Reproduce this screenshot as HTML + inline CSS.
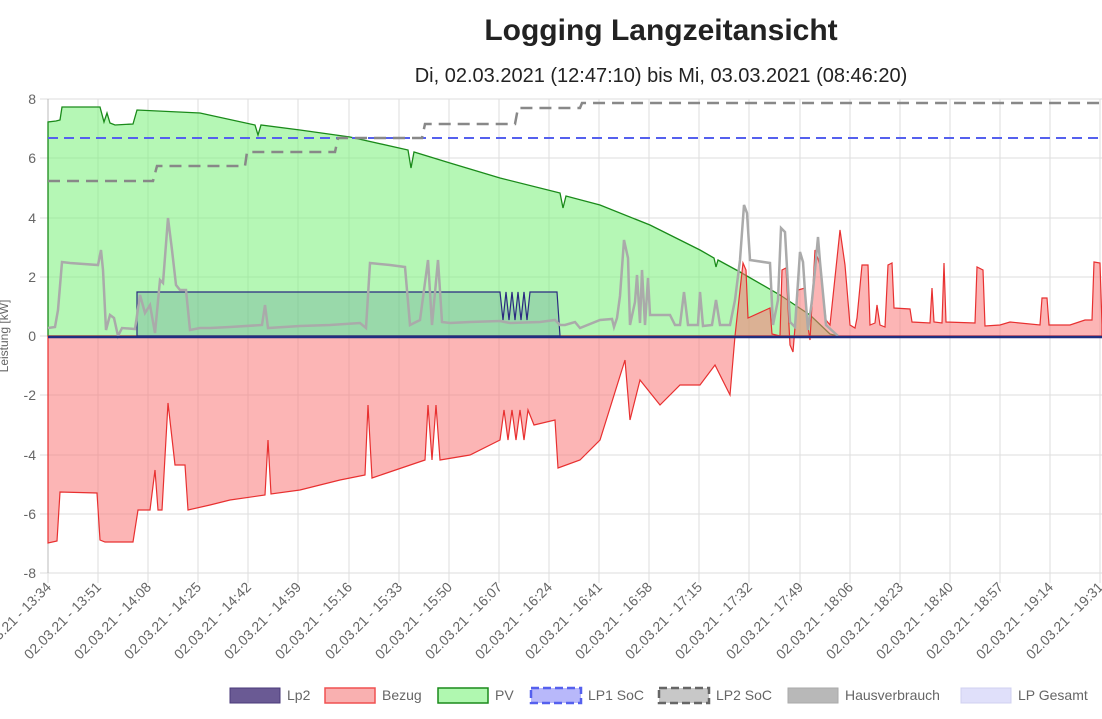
<!DOCTYPE html>
<html><head><meta charset="utf-8"><style>
body{margin:0;background:#fff;width:1102px;height:714px;overflow:hidden;font-family:"Liberation Sans",sans-serif}
</style></head><body>
<svg width="1102" height="714" xmlns="http://www.w3.org/2000/svg" font-family="Liberation Sans, sans-serif">
<text x="661" y="40" text-anchor="middle" font-size="30" font-weight="bold" fill="#222">Logging Langzeitansicht</text>
<text x="661" y="82" text-anchor="middle" font-size="20" fill="#222">Di, 02.03.2021 (12:47:10) bis Mi, 03.03.2021 (08:46:20)</text>
<g stroke="#ddd" stroke-width="1">
<line x1="40" y1="99" x2="1102" y2="99"/><line x1="40" y1="158" x2="1102" y2="158"/><line x1="40" y1="218" x2="1102" y2="218"/><line x1="40" y1="277" x2="1102" y2="277"/><line x1="40" y1="336" x2="1102" y2="336"/><line x1="40" y1="395" x2="1102" y2="395"/><line x1="40" y1="455" x2="1102" y2="455"/><line x1="40" y1="514" x2="1102" y2="514"/><line x1="40" y1="573" x2="1102" y2="573"/>
</g>
<g stroke="#ddd">
<line x1="48" y1="99" x2="48" y2="583"/><line x1="98" y1="99" x2="98" y2="583"/><line x1="148" y1="99" x2="148" y2="583"/><line x1="198" y1="99" x2="198" y2="583"/><line x1="248" y1="99" x2="248" y2="583"/><line x1="298" y1="99" x2="298" y2="583"/><line x1="349" y1="99" x2="349" y2="583"/><line x1="399" y1="99" x2="399" y2="583"/><line x1="449" y1="99" x2="449" y2="583"/><line x1="499" y1="99" x2="499" y2="583"/><line x1="549" y1="99" x2="549" y2="583"/><line x1="599" y1="99" x2="599" y2="583"/><line x1="649" y1="99" x2="649" y2="583"/><line x1="699" y1="99" x2="699" y2="583"/><line x1="749" y1="99" x2="749" y2="583"/><line x1="800" y1="99" x2="800" y2="583"/><line x1="850" y1="99" x2="850" y2="583"/><line x1="900" y1="99" x2="900" y2="583"/><line x1="950" y1="99" x2="950" y2="583"/><line x1="1000" y1="99" x2="1000" y2="583"/><line x1="1050" y1="99" x2="1050" y2="583"/><line x1="1100" y1="99" x2="1100" y2="583"/>
</g>
<line x1="48" y1="99" x2="48" y2="573" stroke="#bbb"/>
<g font-size="14" fill="#666" text-anchor="end">
<text x="36" y="104">8</text><text x="36" y="163">6</text><text x="36" y="223">4</text><text x="36" y="282">2</text><text x="36" y="341">0</text><text x="36" y="400">-2</text><text x="36" y="460">-4</text><text x="36" y="519">-6</text><text x="36" y="578">-8</text>
</g>
<text transform="translate(8,336) rotate(-90)" font-size="12" fill="#666" text-anchor="middle">Leistung [kW]</text>
<path d="M48,336 L48,122 L56,121 L60,120 L62,107 L100,107 L104,122 L107,113 L110,123 L115,125 L133,124 L137,110 L200,113 L255,125 L258,135 L261,125 L300,130 L350,137 L408,150 L411,168 L414,152 L450,163 L500,178 L560,193 L563,208 L566,196 L600,205 L650,225 L700,250 L714,258 L716,267 L718,260 L740,272 L780,295 L810,315 L830,334 L838,336 Z" fill="rgba(120,240,120,0.55)" stroke="#1a8a1a" stroke-width="1.3"/>
<path d="M48,336 L48,543 L57,541 L60,492 L97,493 L100,540 L105,542 L133,542 L138,510 L150,510 L155,470 L158,510 L162,510 L168,403 L175,465 L185,465 L188,510 L210,505 L230,500 L265,495 L268,440 L271,494 L300,490 L340,480 L365,475 L368,405 L372,478 L425,460 L428,405 L432,460 L436,405 L440,460 L470,455 L500,440 L504,410 L508,440 L512,410 L516,440 L520,410 L524,440 L528,410 L534,425 L555,420 L558,468 L580,460 L600,440 L625,360 L630,420 L640,380 L660,405 L680,385 L700,385 L715,365 L730,395 L735,336 L740,290 L743,263 L746,270 L748,318 L770,308 L772,334 L780,336 L782,270 L786,268 L790,345 L793,352 L798,290 L805,288 L807,320 L810,340 L815,250 L820,265 L826,320 L830,325 L840,230 L845,265 L850,325 L855,328 L857,318 L862,265 L868,265 L870,325 L875,323 L877,305 L880,325 L885,327 L888,265 L892,263 L894,308 L910,309 L912,322 L930,323 L932,288 L934,322 L942,323 L944,263 L946,322 L975,323 L977,267 L983,270 L985,326 L1000,325 L1010,322 L1040,325 L1042,298 L1047,298 L1049,325 L1070,325 L1085,320 L1092,320 L1094,262 L1100,263 L1102,325 L1102,336 Z" fill="rgba(250,120,120,0.55)" stroke="#e83030" stroke-width="1.2"/>
<path d="M137,336 L137,292 L500,292 L503,320 L506,292 L509,320 L512,292 L515,320 L518,292 L521,320 L524,292 L527,320 L530,292 L557,292 L560,336 Z" fill="rgba(100,160,150,0.35)" stroke="#2a2a80" stroke-width="1.2"/>
<polyline fill="none" stroke="#aaa" stroke-width="2.5" points="48,328 55,327 58,310 62,262 70,263 98,265 101,250 103,270 106,330 110,315 114,318 118,336 122,328 135,329 140,295 145,313 150,305 155,333 160,280 163,283 168,218 172,250 176,285 180,290 186,290 190,330 200,328 210,328 230,327 262,325 265,305 268,328 300,326 330,325 360,323 366,328 370,263 390,265 405,267 410,325 420,320 428,260 432,325 438,260 442,322 450,323 470,322 500,321 510,323 540,322 555,320 560,325 565,325 575,322 580,328 600,320 612,319 614,327 617,318 620,296 624,240 628,258 630,325 635,302 637,275 640,323 642,270 645,325 648,278 650,315 670,315 675,325 680,325 684,292 688,325 698,325 700,292 703,326 712,325 716,300 720,325 730,325 735,300 740,260 744,205 747,213 750,260 770,263 773,325 778,300 781,228 785,232 790,322 795,327 800,252 803,262 805,292 808,330 812,300 815,270 818,237 820,262 826,325 838,336"/>
<line x1="48" y1="337" x2="1102" y2="337" stroke="#1f2f80" stroke-width="2.5"/>
<line x1="48" y1="138" x2="1102" y2="138" stroke="#5560ee" stroke-width="2" stroke-dasharray="10,6"/>
<polyline fill="none" stroke="#888" stroke-width="2.5" stroke-dasharray="12,7" points="48,181 153,181 157,166 245,166 247,152 335,152 338,138 422,138 425,124 515,124 518,108 580,108 582,103 1102,103"/>
<g font-size="14" fill="#666" text-anchor="end">
<text transform="translate(52,588) rotate(-45)">02.03.21 - 13:34</text>
<text transform="translate(102,588) rotate(-45)">02.03.21 - 13:51</text>
<text transform="translate(152,588) rotate(-45)">02.03.21 - 14:08</text>
<text transform="translate(202,588) rotate(-45)">02.03.21 - 14:25</text>
<text transform="translate(252,588) rotate(-45)">02.03.21 - 14:42</text>
<text transform="translate(302,588) rotate(-45)">02.03.21 - 14:59</text>
<text transform="translate(353,588) rotate(-45)">02.03.21 - 15:16</text>
<text transform="translate(403,588) rotate(-45)">02.03.21 - 15:33</text>
<text transform="translate(453,588) rotate(-45)">02.03.21 - 15:50</text>
<text transform="translate(503,588) rotate(-45)">02.03.21 - 16:07</text>
<text transform="translate(553,588) rotate(-45)">02.03.21 - 16:24</text>
<text transform="translate(603,588) rotate(-45)">02.03.21 - 16:41</text>
<text transform="translate(653,588) rotate(-45)">02.03.21 - 16:58</text>
<text transform="translate(703,588) rotate(-45)">02.03.21 - 17:15</text>
<text transform="translate(753,588) rotate(-45)">02.03.21 - 17:32</text>
<text transform="translate(804,588) rotate(-45)">02.03.21 - 17:49</text>
<text transform="translate(854,588) rotate(-45)">02.03.21 - 18:06</text>
<text transform="translate(904,588) rotate(-45)">02.03.21 - 18:23</text>
<text transform="translate(954,588) rotate(-45)">02.03.21 - 18:40</text>
<text transform="translate(1004,588) rotate(-45)">02.03.21 - 18:57</text>
<text transform="translate(1054,588) rotate(-45)">02.03.21 - 19:14</text>
<text transform="translate(1104,588) rotate(-45)">02.03.21 - 19:31</text>
</g>
<g font-size="14" fill="#666">
<rect x="230" y="688" width="50" height="15" fill="#6a5a94" stroke="#4a3a7a"/><text x="287" y="700">Lp2</text>
<rect x="325" y="688" width="50" height="15" fill="#f9b0b0" stroke="#f05050" stroke-width="1.5"/><text x="382" y="700">Bezug</text>
<rect x="438" y="688" width="50" height="15" fill="#b0f8b0" stroke="#1a8a1a" stroke-width="1.5"/><text x="495" y="700">PV</text>
<rect x="531" y="688" width="50" height="15" fill="#b8b8fa" stroke="#5560ee" stroke-width="2.5" stroke-dasharray="8,4"/><text x="588" y="700">LP1 SoC</text>
<rect x="659" y="688" width="50" height="15" fill="#c8c8c8" stroke="#666" stroke-width="2.5" stroke-dasharray="8,4"/><text x="716" y="700">LP2 SoC</text>
<rect x="788" y="688" width="50" height="15" fill="#b8b8b8" stroke="#aaa"/><text x="845" y="700">Hausverbrauch</text>
<rect x="961" y="688" width="50" height="15" fill="#e0e0fa" stroke="#d0d0f0"/><text x="1018" y="700">LP Gesamt</text>
</g>
</svg>
</body></html>
